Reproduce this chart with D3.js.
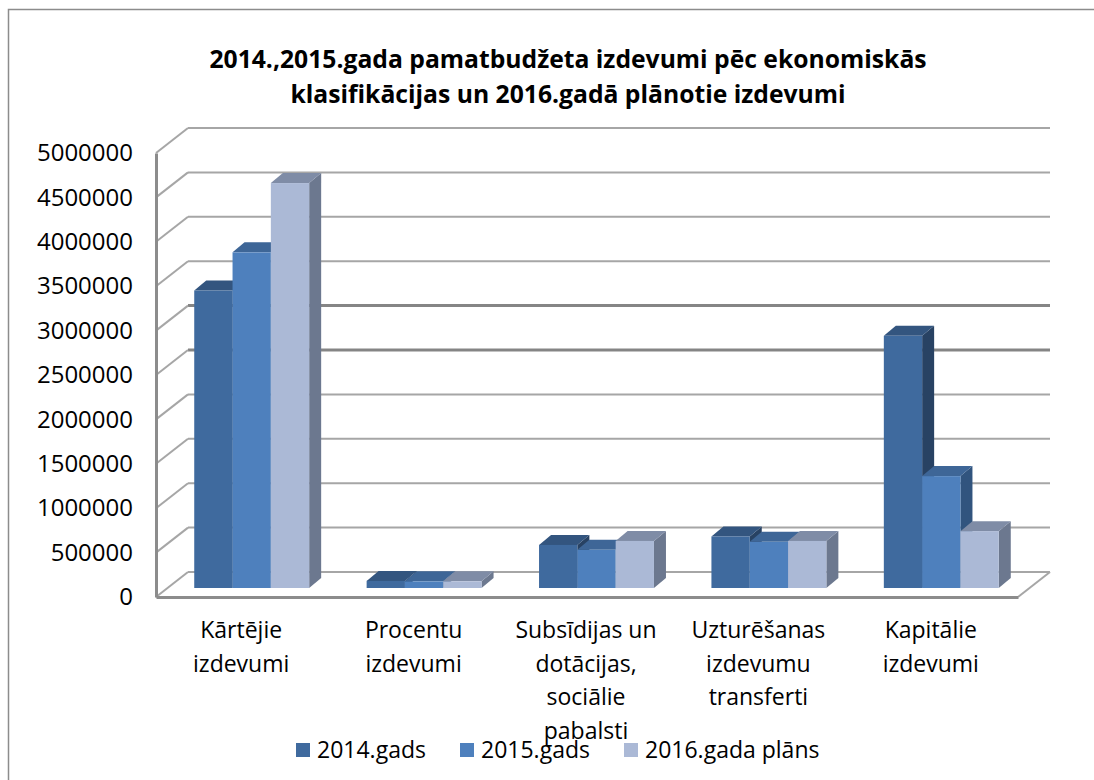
<!DOCTYPE html>
<html>
<head>
<meta charset="utf-8">
<script src="https://cdn.jsdelivr.net/npm/d3@7"></script>
<style>
html, body { margin: 0; padding: 0; background: #fff; }
svg { display: block; }
text { font-family: "Open Sans", sans-serif; fill: #000; }
</style>
</head>
<body>
<div id="chart"></div>
<script>
const titleLines = ["2014.,2015.gada pamatbudžeta izdevumi pēc ekonomiskās", "klasifikācijas un 2016.gadā plānotie izdevumi"];
const categories = ["Kārtējie", "Procentu", "Subsīdijas", "Uzturēšanas", "Kapitālie"];
const categoryLabels = [
    ["Kārtējie", "izdevumi"],
    ["Procentu", "izdevumi"],
    ["Subsīdijas un", "dotācijas,", "sociālie", "pabalsti"],
    ["Uzturēšanas", "izdevumu", "transferti"],
    ["Kapitālie", "izdevumi"]
];
const seriesNames = ["2014.gads", "2015.gads", "2016.gada plāns"];
const values2014 = [3350000, 80000, 485000, 580000, 2840000];
const values2015 = [3780000, 75000, 430000, 520000, 1260000];
const values2016 = [4560000, 75000, 530000, 530000, 640000];
const yTicks = [0, 500000, 1000000, 1500000, 2000000, 2500000, 3000000, 3500000, 4000000, 4500000, 5000000];

const frontColors = ["#3f6a9e", "#4e80bd", "#abb9d6"];
const topColors = ["#33557f", "#3e6697", "#7f8ca6"];
const sideColors = ["#284263", "#31547e", "#6c788f"];

const width = 1094, height = 780;
const left = 156, right = 1018, floorY = 597, topY = 153;
const depthX = 32, depthY = -25;     // full depth of the 3d box
const barShiftX = 9.5, barShiftY = -9; // bars stand a bit inside the floor
const barDepthX = 12, barDepthY = -10;

const svg = d3.select("#chart").append("svg")
    .attr("width", width)
    .attr("height", height);

// outer frame, runs off the picture on the right and bottom
svg.append("path")
    .attr("d", `M8.5,${height} V9.5 H${width}`)
    .attr("fill", "none")
    .attr("stroke", "#8c8c8c")
    .attr("stroke-width", 1.5);

// scales
const x = d3.scaleBand()
    .domain(categories)
    .range([left, right])
    .paddingInner(1 / 3)
    .paddingOuter(1 / 6);

const xSeries = d3.scaleBand()
    .domain(seriesNames)
    .range([0, x.bandwidth()]);

const y = d3.scaleLinear()
    .domain([0, 5000000])
    .range([floorY, topY]);

// title
svg.selectAll(".title")
    .data(titleLines)
    .join("text")
    .attr("class", "title")
    .attr("x", 568)
    .attr("y", (d, i) => 68 + i * 35)
    .attr("text-anchor", "middle")
    .attr("font-size", 24.7)
    .attr("font-weight", "bold")
    .text(d => d);

// grid on the back wall and diagonals on the side wall
const grid = svg.append("g").attr("class", "grid");

grid.selectAll("line.h")
    .data(yTicks)
    .join("line")
    .attr("class", "h")
    .attr("x1", left + depthX)
    .attr("x2", right + depthX)
    .attr("y1", d => y(d) + depthY)
    .attr("y2", d => y(d) + depthY)
    .attr("stroke", d => (d === 3000000 || d === 2500000) ? "#858585" : "#a6a6a6")
    .attr("stroke-width", d => (d === 3000000 || d === 2500000) ? 3 : 2);

grid.selectAll("line.d")
    .data(yTicks)
    .join("line")
    .attr("class", "d")
    .attr("x1", left)
    .attr("x2", left + depthX)
    .attr("y1", d => y(d))
    .attr("y2", d => y(d) + depthY)
    .attr("stroke", "#a6a6a6")
    .attr("stroke-width", 2);

// right edge of the floor
grid.append("line")
    .attr("x1", right).attr("x2", right + depthX)
    .attr("y1", floorY).attr("y2", floorY + depthY)
    .attr("stroke", "#a6a6a6")
    .attr("stroke-width", 2);

// axes
const yAxis = svg.append("g")
    .attr("class", "axis y-axis")
    .attr("transform", `translate(${left},0)`)
    .call(d3.axisLeft(y).tickValues(yTicks).tickSize(0).tickPadding(23).tickFormat(d3.format("d")));
yAxis.selectAll("text").attr("font-size", 24).attr("font-family", '"Open Sans", sans-serif');
yAxis.select(".domain").attr("stroke", "#8c8c8c").attr("stroke-width", 3);

const xAxis = svg.append("g")
    .attr("class", "axis x-axis")
    .attr("transform", `translate(0,${floorY})`)
    .call(d3.axisBottom(x).tickSize(0).tickFormat(""));
xAxis.select(".domain").attr("stroke", "#8c8c8c").attr("stroke-width", 3);

// bars
const allValues = [values2014, values2015, values2016];
const barsG = svg.append("g")
    .attr("class", "bars")
    .attr("transform", `translate(${barShiftX},${barShiftY})`);

categories.forEach((cat, c) => {
    allValues.forEach((vals, s) => {
        const x0 = x(cat) + xSeries(seriesNames[s]);
        const x1 = x0 + xSeries.bandwidth();
        const y0 = y(0);
        const y1 = y(vals[c]);
        const g = barsG.append("g");

        g.append("path")
            .attr("d", `M${x1},${y1} L${x1 + barDepthX},${y1 + barDepthY} V${y0 + barDepthY} L${x1},${y0} Z`)
            .attr("fill", sideColors[s]);
        g.append("path")
            .attr("d", `M${x0},${y1} L${x0 + barDepthX},${y1 + barDepthY} H${x1 + barDepthX} L${x1},${y1} Z`)
            .attr("fill", topColors[s]);
        g.append("rect")
            .attr("x", x0)
            .attr("y", y1)
            .attr("width", x1 - x0)
            .attr("height", y0 - y1)
            .attr("fill", frontColors[s]);
    });
});

// category labels
categories.forEach((cat, c) => {
    svg.append("g")
        .selectAll("text")
        .data(categoryLabels[c])
        .join("text")
        .attr("x", x(cat) + x.bandwidth() / 2 - 1)
        .attr("y", (d, i) => 638 + i * 33.5)
        .attr("text-anchor", "middle")
        .attr("font-size", 23)
        .text(d => d);
});

// legend
const legendX = [296, 460, 624];
const legend = svg.selectAll(".legend")
    .data(seriesNames)
    .join("g")
    .attr("class", "legend")
    .attr("transform", (d, i) => `translate(${legendX[i]},743)`);

legend.append("rect")
    .attr("width", 14)
    .attr("height", 14)
    .attr("fill", (d, i) => frontColors[i]);

legend.append("text")
    .attr("x", 21)
    .attr("y", 15)
    .attr("font-size", 23)
    .text(d => d);
</script>
</body>
</html>
